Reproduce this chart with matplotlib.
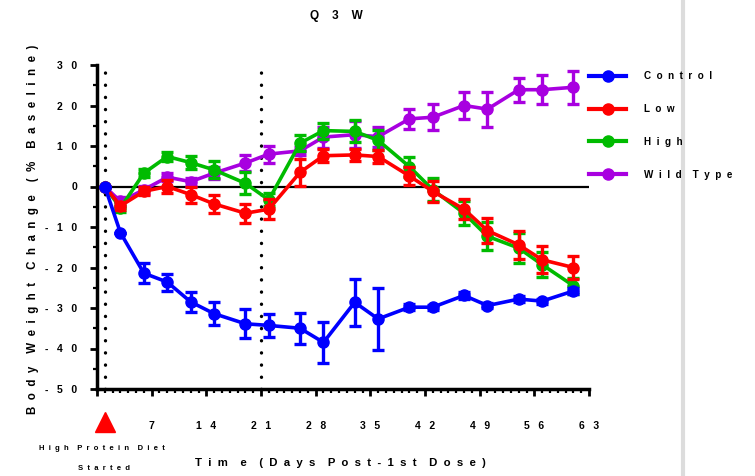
import matplotlib
matplotlib.use("Agg")
import matplotlib.pyplot as plt
from matplotlib.lines import Line2D

plt.rcParams['font.family'] = ['Liberation Sans', 'DejaVu Sans']
plt.rcParams['font.weight'] = 'bold'

days = [1, 3, 6, 9, 12, 15, 19, 22, 26, 29, 33, 36, 40, 43, 47, 50, 54, 57, 61]

control = [0, -11.4, -21.4, -23.6, -28.5, -31.4, -33.9, -34.3, -35.0, -38.5,
           -28.6, -32.7, -29.8, -29.8, -26.9, -29.4, -27.8, -28.3, -25.8]
control_err = [0, 0, 2.5, 2.1, 2.4, 2.9, 3.6, 2.8, 3.8, 5.1,
               5.8, 7.7, 0.8, 0.6, 0.8, 0.6, 0.8, 0.6, 0.8]

low = [0, -4.8, -1.2, 0.0, -2.0, -4.3, -6.6, -5.6, 3.5, 7.6,
       7.8, 7.4, 2.6, -1.2, -5.6, -10.9, -14.4, -18.1, -20.0]
low_err = [0, 1.0, 1.0, 1.7, 2.0, 2.3, 2.4, 2.4, 3.4, 1.6,
           1.5, 1.7, 2.3, 2.6, 2.5, 3.1, 3.5, 3.3, 2.9]

high = [0, -5.3, 3.3, 7.4, 5.9, 4.1, 0.8, -3.3, 10.7, 13.8,
        13.6, 11.4, 4.9, -0.8, -6.6, -12.3, -15.2, -19.3, -24.5]
high_err = [0, 1.0, 1.0, 1.0, 1.6, 2.1, 2.7, 1.6, 2.0, 2.0,
            2.7, 2.5, 2.5, 2.9, 2.9, 3.5, 3.7, 3.1, 2.0]

wild = [0, -3.7, -0.8, 2.3, 1.2, 3.3, 5.8, 8.0, 8.8, 12.2,
        12.8, 12.3, 16.7, 17.1, 20.0, 19.1, 23.9, 23.9, 24.5]
wild_err = [0, 1.0, 1.0, 1.0, 1.0, 1.5, 1.9, 2.1, 1.0, 2.6,
            3.3, 2.5, 2.4, 3.2, 3.4, 4.3, 3.0, 3.6, 4.1]

groups = ["Control", "Low", "High", "Wild Type"]
series = [control, low, high, wild]
errors = [control_err, low_err, high_err, wild_err]
colors = ["#0000FF", "#FF0000", "#00BB00", "#A800E0"]

marked_days = [1, 21]
x_ticks = list(range(0, 64, 7))
y_ticks = list(range(-50, 31, 10))


def spaced(s, n=1):
    # wide letter spacing like the original (word gaps doubled)
    gap = " " * n
    return (gap * 2).join(gap.join(w) for w in s.split(" "))


fig = plt.figure(figsize=(7.55, 4.76), dpi=100)
ax = fig.add_axes([97 / 755, 1 - 389 / 476, (589 - 97) / 755, (389 - 65) / 476])

# draw in reverse so control ends on top
for i in range(len(groups) - 1, -1, -1):
    ax.errorbar(days, series[i], yerr=errors[i], color=colors[i], lw=2.6,
                marker='o', ms=8, capsize=4, capthick=2.4, elinewidth=2.4,
                zorder=3 + (len(groups) - i))

ax.axhline(0, color='black', lw=1.6, zorder=2)
for d in marked_days:
    ax.plot([d, d], [-50, 30], color='black', lw=2.4, ls=(0, (0.05, 3.6)),
            dash_capstyle='round', zorder=1, clip_on=False)

ax.set_xlim(0, 63)
ax.set_ylim(-50, 30)
for side in ['top', 'right']:
    ax.spines[side].set_visible(False)
for side in ['left', 'bottom']:
    ax.spines[side].set_linewidth(2.5)

ax.set_xticks(x_ticks)
ax.set_xticklabels(['' if t == 0 else spaced(str(t), 3) for t in x_ticks])
ax.set_xticks(range(0, 64), minor=True)
ax.set_yticks(y_ticks)
ax.set_yticklabels([spaced(str(t), 3) for t in y_ticks])
ax.set_yticks(range(-50, 31, 5), minor=True)
ax.tick_params(axis='x', which='major', length=5, width=2, pad=18, labelsize=7.5)
ax.tick_params(axis='x', which='minor', length=3, width=1.6)
ax.tick_params(axis='y', which='major', length=5, width=2, pad=9, labelsize=7.5)
ax.tick_params(axis='y', which='minor', length=3, width=1.6)

# red triangle marking the diet start
ax.plot([1], [-58.2], marker='^', color='#FF0000', ms=15, clip_on=False)

fig.text(336 / 755, 1 - 16 / 476, spaced("Q3W", 4), ha='center', va='center',
         fontsize=8.5, fontweight='bold')
fig.text(340 / 755, 1 - 463 / 476, spaced("Tim e (Days Post-1st Dose)", 2),
         ha='center', va='center', fontsize=8.2, fontweight='bold')
fig.text(33 / 755, 1 - 229 / 476, spaced("Body Weight Change (% Baseline)", 2),
         ha='center', va='center', rotation=90, fontsize=8.3, fontweight='bold')
fig.text(102 / 755, 1 - 449 / 476, spaced("High Protein Diet", 2),
         ha='center', va='center', fontsize=5.5, fontweight='bold')
fig.text(104 / 755, 1 - 468 / 476, spaced("Started", 2), ha='center', va='center',
         fontsize=5.5, fontweight='bold')

handles = [Line2D([], [], color=c, lw=3, marker='o', ms=8) for c in colors]
labels = [spaced(g, 2) for g in groups]
leg = ax.legend(handles, labels, loc='upper left', bbox_to_anchor=(1.0, 0.98),
                frameon=False, fontsize=7.1, handlelength=3.8, handletextpad=1.8,
                labelspacing=2.3, borderpad=0, borderaxespad=0)

# grey divider at the right of the screenshot, behind the legend text
fig.add_artist(Line2D([683 / 755, 683 / 755], [0, 1], color='#dcdcdc', lw=3,
                      zorder=-1))

fig.savefig("out.png", dpi=100)
